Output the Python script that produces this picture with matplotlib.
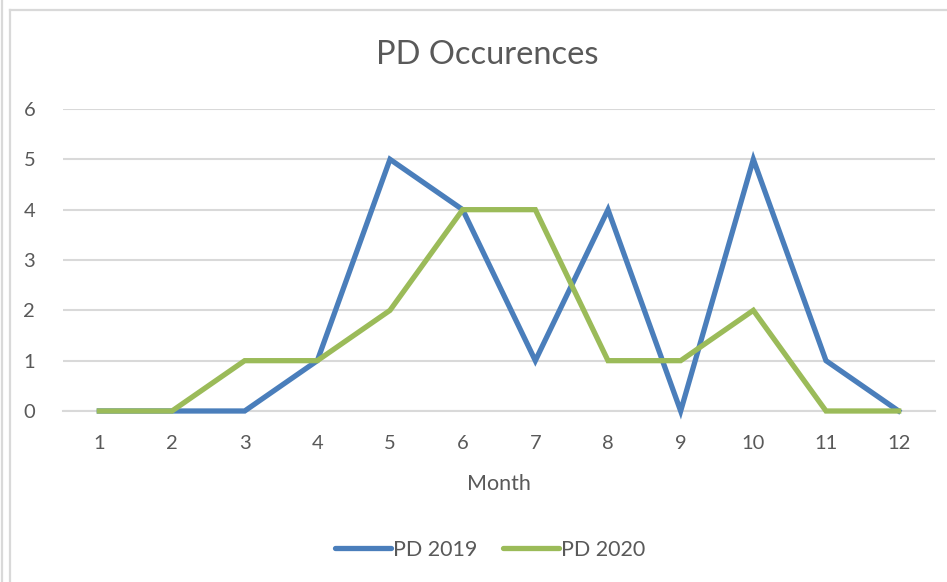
import matplotlib
matplotlib.use("Agg")
import matplotlib.pyplot as plt
from matplotlib.lines import Line2D

months = [1, 2, 3, 4, 5, 6, 7, 8, 9, 10, 11, 12]
pd2019 = [0, 0, 0, 1, 5, 4, 1, 4, 0, 5, 1, 0]
pd2020 = [0, 0, 1, 1, 2, 4, 4, 1, 1, 2, 0, 0]
yticks = [0, 1, 2, 3, 4, 5, 6]

plt.rcParams['font.family'] = ['Lato', 'DejaVu Sans']
text_col = '#595959'
grid_col = '#D9D9D9'

W, H = 947, 582
fig = plt.figure(figsize=(W / 100, H / 100), dpi=100)
ax = fig.add_axes([63 / W, 171 / H, 872 / W, 302 / H])

ax.plot(months, pd2019, color='#4A7EBB', lw=3.8, label='PD 2019',
        solid_joinstyle='miter', clip_on=False, zorder=3)
ax.plot(months, pd2020, color='#9BBB59', lw=3.8, label='PD 2020',
        solid_joinstyle='miter', clip_on=False, zorder=3)

ax.set_xlim(0.5, 12.5)
ax.set_ylim(0, 6)
ax.set_xticks(months)
ax.set_yticks(yticks)
ax.yaxis.grid(True, color=grid_col, lw=1.5)
ax.set_axisbelow(True)
for s in ['top', 'right', 'left']:
    ax.spines[s].set_visible(False)
ax.spines['bottom'].set_color(grid_col)
ax.spines['bottom'].set_linewidth(1.5)
ax.tick_params(axis='both', length=0, labelsize=14.5, colors=text_col)
ax.tick_params(axis='y', pad=20)
ax.tick_params(axis='x', pad=17)
ax.set_xlabel('Month', fontsize=15.5, color=text_col, labelpad=16)

fig.text(487 / W, 1 - 55 / H, 'PD Occurences', ha='center', va='center',
         fontsize=23.5, color=text_col)

leg = fig.legend(loc='center', bbox_to_anchor=(490 / W, 1 - 550 / H), ncol=2,
                 frameon=False, fontsize=15.5, handlelength=2.6,
                 handletextpad=0.1, columnspacing=1.2)
for t in leg.get_texts():
    t.set_color(text_col)
for h in leg.get_lines():
    h.set_solid_capstyle('round')

# chart border remnants
fig.add_artist(Line2D([10 / W, 1], [1 - 10 / H, 1 - 10 / H], transform=fig.transFigure,
                      color=grid_col, lw=1.6))
fig.add_artist(Line2D([10 / W, 10 / W], [0, 1 - 10 / H], transform=fig.transFigure,
                      color=grid_col, lw=1.6))
fig.add_artist(Line2D([2 / W, 2 / W], [0, 1], transform=fig.transFigure,
                      color=grid_col, lw=1.6))

fig.savefig('out.png', dpi=100, facecolor='white')
